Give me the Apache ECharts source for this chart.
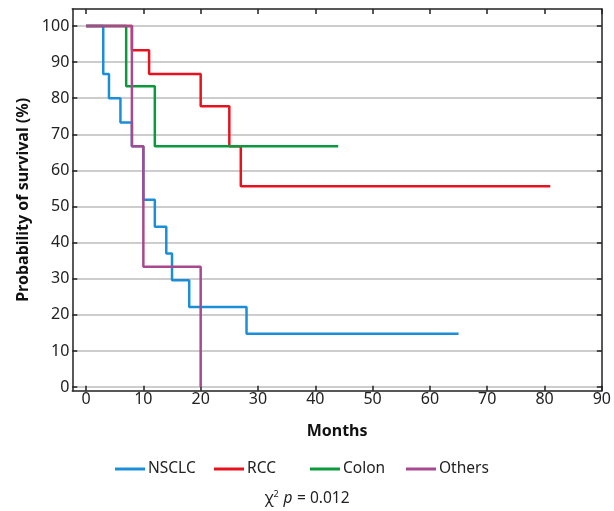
<!DOCTYPE html>
<html>
<head>
<meta charset="utf-8">
<script src="https://cdn.jsdelivr.net/npm/echarts@6/dist/echarts.min.js"></script>
<style>html,body{margin:0;padding:0;background:#fff}#c{width:614px;height:511px}</style>
</head>
<body>
<div id="c"></div>
<script>
const xTicks = [0,10,20,30,40,50,60,70,80,90];
const yTicks = [0,10,20,30,40,50,60,70,80,90,100];

const nsclcTime = [0,3,4,6,8,10,12,14,15,18,28,65];
const nsclcSurv = [100,86.7,80,73.3,66.7,51.9,44.4,37.0,29.6,22.2,14.8,14.8];
const rccTime = [0,8,11,20,25,27,81];
const rccSurv = [100,93.3,86.7,77.8,66.7,55.6,55.6];
const colonTime = [0,7,12,44];
const colonSurv = [100,83.3,66.7,66.7];
const othersTime = [0,8,10,20];
const othersSurv = [100,66.7,33.3,0];

const seriesNames = ['NSCLC','RCC','Colon','Others'];
const seriesColors = ['#1a8fd8','#e8121f','#0a9a3c','#a8488e'];

const pairs = (t, s) => t.map((v, i) => [v, s[i]]);
const dataSets = [pairs(nsclcTime,nsclcSurv), pairs(rccTime,rccSurv), pairs(colonTime,colonSurv), pairs(othersTime,othersSurv)];

const FONT = 'Noto Sans';
const chart = echarts.init(document.getElementById('c'));

const axisLine = {show:true, onZero:false, lineStyle:{color:'#222', width:1.5}};
const legendLefts = [110, 209, 305, 401];

chart.setOption({
  animation: false,
  textStyle: {fontFamily: FONT},
  grid: {left: 72.3, right: 12, top: 9, bottom: 120.3, containLabel: false},
  xAxis: [
    {type:'value', min:-2.4, max:90, position:'bottom',
     name:'Months', nameLocation:'middle', nameGap:33,
     nameTextStyle:{fontFamily:FONT, fontSize:16, fontWeight:'bold', color:'#111'},
     axisLine: axisLine,
     axisTick:{show:true, inside:true, length:5, customValues:xTicks, lineStyle:{color:'#222', width:1.5}},
     axisLabel:{customValues:xTicks, fontSize:16, color:'#222', margin:1, fontFamily:FONT},
     splitLine:{show:false}},
    {type:'value', min:-2.4, max:90, position:'top',
     axisLine: axisLine,
     axisTick:{show:true, inside:true, length:5, customValues:xTicks, lineStyle:{color:'#222', width:1.5}},
     axisLabel:{show:false},
     splitLine:{show:false}}
  ],
  yAxis: [
    {type:'value', min:-1, max:104.7, position:'left',
     name:'Probability of survival (%)', nameLocation:'middle', nameGap:38,
     nameTextStyle:{fontFamily:FONT, fontSize:16, fontWeight:'bold', color:'#111'},
     axisLine: axisLine,
     axisTick:{show:true, inside:true, length:5, customValues:yTicks, lineStyle:{color:'#222', width:1.5}},
     axisLabel:{customValues:yTicks, fontSize:16, color:'#222', margin:3, fontFamily:FONT},
     splitLine:{show:true, lineStyle:{color:'#bdbdbd', width:1.5}}},
    {type:'value', min:-1, max:104.7, position:'right',
     axisLine: axisLine,
     axisTick:{show:true, inside:true, length:5, customValues:yTicks, lineStyle:{color:'#222', width:1.5}},
     axisLabel:{show:false},
     splitLine:{show:false}}
  ],
  legend: seriesNames.map((n, i) => ({
    data:[n], left: legendLefts[i], top: 456, icon:'rect', itemWidth:30, itemHeight:3, itemGap:0,
    textStyle:{fontFamily:FONT, fontSize:15.5, color:'#222', padding:[0,0,0,-2]}, selectedMode:false
  })),
  title: {
    text: '{a|χ}{s|2} {i|p} {a|= 0.012}', left: 'center', top: 485,
    textStyle: {fontWeight:'normal', rich: {
      a:{fontFamily:FONT, fontSize:15.5, color:'#222', fontWeight:'normal'},
      s:{fontFamily:FONT, fontSize:9, color:'#222', fontWeight:'normal', verticalAlign:'top', padding:[0,0,8,0]},
      i:{fontFamily:FONT, fontSize:15.5, color:'#222', fontStyle:'italic', fontWeight:'normal'}
    }}
  },
  series: dataSets.map((d, i) => ({
    name: seriesNames[i], type:'line', step:'end', data:d, showSymbol:false, symbol:'none',
    xAxisIndex:0, yAxisIndex:0, z: 2 + i,
    lineStyle:{color:seriesColors[i], width:2.5}, itemStyle:{color:seriesColors[i]}
  }))
});
</script>
</body>
</html>
